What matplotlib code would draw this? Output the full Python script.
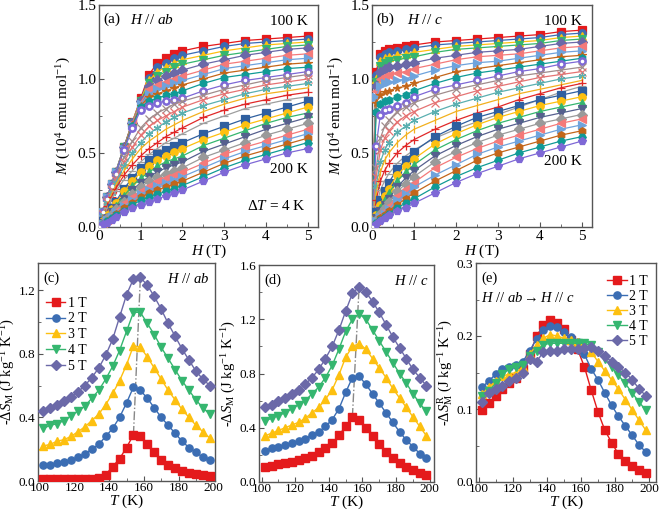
import matplotlib.pyplot as plt
import numpy as np
from matplotlib.ticker import MultipleLocator, FormatStrFormatter

plt.rcParams['font.family'] = ['Liberation Serif', 'DejaVu Serif']
plt.rcParams['mathtext.fontset'] = 'custom'
plt.rcParams['mathtext.rm'] = 'Liberation Serif'
plt.rcParams['mathtext.it'] = 'Liberation Serif:italic'
plt.rcParams['mathtext.bf'] = 'Liberation Serif:bold'

# ---- isotherms, 100 K ... 200 K, step 4 K ----
temps = list(range(100, 201, 4))

# (a) H // ab ; M in units of 0.01 x 10^4 emu/mol
H_ab = [0, 0.1, 0.2, 0.3, 0.4, 0.6, 0.8, 1.0, 1.2, 1.4, 1.6, 1.8, 2.0, 2.5, 3.0, 3.5, 4.0, 4.5, 5.0]
M_ab = [
    [0, 10, 20, 29, 37, 54, 71, 87, 103, 111, 114, 117, 119, 122, 124, 126, 127, 128, 129],
    [0, 10, 20, 29, 37, 54, 71, 86, 101, 108, 111, 114, 116, 119, 122, 124, 125, 126, 127],
    [0, 10, 20, 29, 37, 54, 71, 86, 99, 105, 108, 111, 113, 116, 119, 121, 123, 124, 125],
    [0, 10, 20, 29, 37, 54, 70, 85, 97, 102, 105, 108, 110, 113, 116, 118, 120, 122, 123],
    [0, 10, 20, 29, 37, 54, 70, 85, 95, 99, 102, 104, 106, 110, 113, 116, 118, 120, 121],
    [0, 10, 20, 29, 37, 53, 70, 84, 93, 96, 98, 100, 102, 106, 110, 112, 114, 116, 117],
    [0, 10, 20, 29, 37, 53, 69, 83, 90, 93, 95, 97, 99, 103, 107, 109, 111, 113, 114],
    [0, 10, 19, 28, 36, 53, 69, 82, 88, 90, 92, 94, 96, 100, 104, 106, 108, 110, 111],
    [0, 10, 19, 28, 36, 52, 68, 81, 85, 87, 89, 90, 92, 97, 101, 103, 105, 107, 108],
    [0, 10, 19, 28, 36, 52, 67, 79, 82, 84, 85, 86, 87, 92, 96, 99, 101, 103, 105],
    [0, 9, 18, 26, 34, 47, 58, 67, 73, 77, 80, 83, 85, 89, 93, 96, 99, 101, 103],
    [0, 9, 17, 25, 32, 44, 54, 62, 68, 72, 75, 78, 81, 86, 90, 93, 96, 98, 100],
    [0, 8, 16, 23, 30, 41, 50, 57, 63, 67, 71, 74, 77, 82, 86, 90, 93, 95, 97],
    [0, 8, 15, 22, 28, 38, 46, 53, 58, 62, 66, 69, 72, 78, 83, 87, 90, 92, 94],
    [0, 7, 14, 20, 26, 35, 42, 48, 53, 57, 61, 64, 67, 74, 79, 83, 86, 89, 91],
    [0, 7, 13, 19, 24, 32, 38, 44, 49, 53, 57, 60, 63, 70, 75, 80, 83, 86, 88],
    [0, 4, 8, 13, 17, 26, 33, 40, 45, 49, 52, 55, 57, 63, 68, 73, 77, 81, 85],
    [0, 4, 8, 12, 16, 24, 31, 37, 41, 45, 48, 51, 53, 59, 64, 69, 73, 77, 81],
    [0, 3, 7, 11, 14, 21, 28, 33, 37, 41, 44, 46, 48, 55, 60, 65, 70, 74, 77],
    [0, 3, 6, 10, 13, 19, 25, 30, 34, 37, 40, 42, 44, 51, 56, 61, 66, 70, 74],
    [0, 3, 6, 9, 12, 17, 22, 27, 31, 34, 36, 38, 40, 47, 52, 57, 62, 66, 70],
    [0, 3, 5, 8, 11, 16, 20, 24, 28, 31, 33, 35, 37, 43, 49, 54, 58, 62, 66],
    [0, 2, 5, 7, 10, 14, 18, 22, 25, 28, 30, 32, 34, 40, 46, 51, 55, 59, 63],
    [0, 2, 4, 6, 9, 13, 16, 20, 23, 25, 27, 29, 31, 37, 43, 48, 52, 56, 60],
    [0, 2, 4, 6, 8, 11, 15, 18, 20, 22, 24, 26, 28, 34, 40, 45, 49, 53, 57],
    [0, 2, 3, 5, 7, 10, 13, 15, 17, 19, 21, 23, 25, 31, 37, 42, 46, 50, 53],
]

# (b) H // c
H_c = [0, 0.1, 0.2, 0.3, 0.4, 0.6, 0.8, 1.0, 1.5, 2.0, 2.5, 3.0, 3.5, 4.0, 4.5, 5.0]
M_c = [
    [0, 105, 117, 119, 120, 121, 122, 123, 125, 126, 127, 128, 129, 130, 132, 133],
    [0, 103, 115, 117, 118, 119, 120, 121, 123, 124, 125, 126, 127, 128, 130, 131],
    [0, 100, 112, 114, 115, 116, 117, 118, 120, 122, 123, 124, 125, 126, 128, 129],
    [0, 98, 109, 111, 112, 113, 114, 115, 118, 120, 121, 122, 123, 124, 126, 127],
    [0, 95, 105, 107, 108, 109, 110, 111, 114, 116, 118, 119, 120, 122, 124, 125],
    [0, 92, 100, 102, 103, 104, 105, 107, 110, 113, 115, 116, 117, 119, 121, 122],
    [0, 88, 95, 97, 98, 99, 100, 102, 106, 109, 111, 112, 114, 116, 118, 119],
    [0, 84, 89, 91, 92, 94, 95, 97, 101, 105, 107, 109, 111, 113, 115, 116],
    [0, 78, 83, 85, 86, 88, 89, 92, 97, 101, 104, 106, 108, 110, 112, 114],
    [0, 55, 76, 79, 80, 82, 84, 88, 93, 96, 99, 102, 105, 107, 110, 112],
    [0, 40, 60, 68, 72, 78, 81, 84, 89, 93, 96, 99, 102, 104, 106, 108],
    [0, 34, 52, 60, 65, 71, 75, 78, 84, 88, 92, 95, 98, 101, 103, 105],
    [0, 28, 44, 52, 57, 64, 68, 72, 78, 83, 87, 91, 94, 97, 100, 102],
    [0, 23, 37, 45, 50, 57, 62, 66, 72, 78, 82, 86, 90, 93, 96, 99],
    [0, 18, 31, 38, 43, 50, 55, 59, 66, 72, 77, 81, 86, 90, 94, 97],
    [0, 14, 25, 31, 36, 43, 48, 52, 60, 66, 71, 76, 81, 86, 91, 95],
    [0, 10, 18, 24, 30, 39, 45, 51, 61, 68, 74, 78, 82, 86, 89, 92],
    [0, 8, 15, 21, 26, 35, 41, 46, 56, 63, 69, 74, 78, 82, 85, 88],
    [0, 7, 13, 18, 23, 31, 37, 42, 52, 59, 65, 70, 74, 78, 81, 84],
    [0, 6, 11, 15, 19, 27, 33, 38, 48, 55, 61, 66, 70, 74, 77, 80],
    [0, 5, 9, 13, 17, 24, 29, 34, 44, 51, 57, 62, 66, 70, 73, 76],
    [0, 4, 8, 11, 14, 21, 26, 30, 40, 47, 53, 58, 62, 66, 70, 73],
    [0, 4, 7, 9, 12, 18, 22, 27, 35, 42, 49, 54, 58, 62, 66, 69],
    [0, 3, 6, 8, 11, 15, 19, 23, 31, 38, 45, 50, 54, 58, 62, 65],
    [0, 3, 5, 7, 9, 13, 16, 19, 27, 34, 40, 45, 50, 54, 58, 61],
    [0, 2, 4, 6, 8, 11, 13, 16, 23, 30, 36, 41, 46, 50, 54, 58],
]

# ---- entropy change vs T ----
T_s = list(range(102, 199, 4))
fields = ['1 T', '2 T', '3 T', '4 T', '5 T']
dS_ab = [
    [.01, .01, .01, .01, .01, .01, .01, .015, .02, .04, .09, .14, .21, .29, .28, .23, .18, .13, .10, .08, .065, .05, .045, .04, .03],
    [.10, .10, .11, .12, .13, .15, .17, .20, .23, .28, .33, .40, .49, .59, .57, .52, .46, .40, .35, .30, .25, .21, .18, .15, .13],
    [.22, .23, .25, .26, .28, .31, .34, .38, .42, .48, .55, .63, .73, .85, .84, .78, .71, .64, .57, .51, .45, .40, .35, .31, .27],
    [.33, .35, .36, .38, .41, .44, .47, .52, .57, .64, .72, .82, .94, 1.06, 1.06, .99, .92, .84, .77, .70, .63, .57, .51, .46, .42],
    [.44, .46, .48, .50, .53, .56, .60, .65, .71, .79, .89, 1.03, 1.17, 1.27, 1.28, 1.23, 1.16, 1.08, .99, .91, .83, .76, .69, .64, .60],
]
dS_c = [
    [.11, .12, .13, .14, .15, .16, .175, .19, .22, .25, .285, .345, .41, .48, .455, .40, .34, .28, .22, .18, .14, .11, .085, .065, .055],
    [.23, .25, .26, .27, .285, .30, .32, .345, .37, .41, .46, .54, .66, .77, .78, .72, .65, .58, .51, .44, .37, .31, .26, .21, .175],
    [.34, .36, .38, .40, .42, .44, .47, .51, .55, .61, .68, .79, .92, 1.00, 1.02, .98, .91, .84, .77, .69, .62, .55, .48, .41, .34],
    [.45, .47, .49, .51, .54, .57, .60, .65, .70, .77, .86, .98, 1.11, 1.20, 1.24, 1.20, 1.12, 1.04, .96, .88, .80, .73, .65, .58, .52],
    [.55, .57, .60, .62, .65, .68, .72, .77, .83, .91, 1.00, 1.12, 1.26, 1.39, 1.44, 1.40, 1.33, 1.25, 1.16, 1.07, .99, .91, .83, .77, .71],
]
dS_R = [
    [.098, .108, .118, .127, .135, .142, .155, .175, .200, .215, .222, .218, .210, .195, .182, .158, .126, .096, .071, .054, .038, .029, .022, .016, .013],
    [.130, .138, .148, .155, .158, .160, .165, .180, .196, .208, .214, .212, .205, .198, .192, .175, .155, .140, .122, .105, .090, .077, .064, .051, .041],
    [.120, .130, .138, .145, .148, .150, .158, .175, .188, .197, .202, .200, .197, .195, .192, .188, .178, .165, .152, .140, .127, .113, .099, .085, .071],
    [.118, .125, .135, .148, .155, .158, .160, .172, .180, .188, .190, .190, .190, .190, .190, .190, .187, .178, .168, .158, .146, .135, .122, .110, .098],
    [.110, .122, .128, .132, .138, .142, .150, .168, .165, .178, .180, .180, .182, .182, .182, .183, .185, .180, .172, .165, .158, .150, .140, .128, .118],
]

# ---- styles ----
iso_colors = ['#E41A1C', '#3B6DB3', '#FDC010', '#35B66F', '#6B69A8', '#F47A7A', '#6FA3DC', '#C3661A', '#109A96', '#7E68D6',
              '#A08C8C', '#E57373', '#5AAFB0', '#F2B01E', '#E02828', '#9E9E9E',
              '#2F5F9F', '#FDC010', '#35B66F', '#56608E', '#9A9A9A', '#F47A7A', '#6FA3DC', '#C3661A', '#109A96', '#7E68D6']
iso_markers = ['s', 'o', '^', 'v', 'D', '<', '>', '*', 'h', 'o',
               'x', 'x', (6, 2, 0), '|', '+', '_',
               's', 'o', '^', 'v', 'D', '<', '>', 'h', 'H', 'p']
fld_colors = ['#E41A1C', '#3B6DB3', '#FDC010', '#35B66F', '#6B69A8']
fld_markers = ['s', 'o', '^', 'v', 'D']

W, Hpx = 660, 512
fig = plt.figure(figsize=(W / 100, Hpx / 100), dpi=100)


def box(l, r, t, b):
    return fig.add_axes([l / W, 1 - b / Hpx, (r - l) / W, (b - t) / Hpx])


def style(ax, fs):
    for s in ax.spines.values():
        s.set_color('#555555')
        s.set_linewidth(1.0)
    ax.tick_params(which='both', direction='in', top=False, right=False, labelsize=fs, color='#555555', pad=2)
    ax.tick_params(which='major', length=3.5)
    ax.tick_params(which='minor', length=2)


def iso_panel(ax, H, M, tag, dirtxt, show_dt, lbl200_y):
    for i, row in enumerate(M):
        m = np.array(row) / 100.0
        ax.plot(H, m, color=iso_colors[i], lw=0.9, marker=iso_markers[i], ms=5.4,
                mec=iso_colors[i], mew=0.9, zorder=3)
        if i == 9:
            ax.plot(H, m, ls='none', marker='o', ms=1.6, color='white', zorder=4)
    ax.set_xlim(0, 5.25)
    ax.set_ylim(0, 1.5)
    ax.xaxis.set_major_locator(MultipleLocator(1))
    ax.xaxis.set_minor_locator(MultipleLocator(0.5))
    ax.yaxis.set_major_locator(MultipleLocator(0.5))
    ax.yaxis.set_minor_locator(MultipleLocator(0.25))
    ax.yaxis.set_major_formatter(FormatStrFormatter('%.1f'))
    style(ax, 11)
    ax.set_xlabel(r'$H$ (T)', fontsize=11, labelpad=0)
    ax.set_ylabel(r'$M$ (10$^4$ emu mol$^{-1}$)', fontsize=11, labelpad=3)
    ax.text(0.02, 0.965, tag, transform=ax.transAxes, fontsize=11, va='top')
    ax.text(dirtxt[0], 0.965, dirtxt[1], transform=ax.transAxes, fontsize=11, va='top')
    ax.text(5.0, 1.39, '100 K', fontsize=11, ha='right', va='center')
    ax.text(5.0, lbl200_y, '200 K', fontsize=11, ha='right', va='center')
    if show_dt:
        ax.text(4.95, 0.14, r'$\Delta T$ = 4 K', fontsize=11, ha='right', va='center')


ax_a = box(99, 318, 5, 227)
iso_panel(ax_a, H_ab, M_ab, '(a)', (0.14, r'$H$ // $ab$'), True, 0.39)
ax_b = box(372, 592, 5, 227)
iso_panel(ax_b, H_c, M_c, '(b)', (0.16, r'$H$ // $c$'), False, 0.44)


def ds_panel(ax, data, ylim, ystep, ylabel, peakline):
    for j, row in enumerate(data):
        ax.plot(T_s, row, color=fld_colors[j], lw=1.0, marker=fld_markers[j], ms=5.2,
                mec=fld_colors[j], label=fields[j], zorder=3)
    if peakline:
        lo, hi = np.array(data[0]), np.array(data[-1])
        ax.plot([T_s[lo.argmax()], T_s[hi.argmax()]], [lo.max(), hi.max()],
                color='#888888', ls='-.', lw=1.0, zorder=2)
    ax.set_ylim(*ylim)
    ax.xaxis.set_major_locator(MultipleLocator(20))
    ax.xaxis.set_minor_locator(MultipleLocator(10))
    ax.yaxis.set_major_locator(MultipleLocator(ystep))
    ax.yaxis.set_minor_locator(MultipleLocator(ystep / 2))
    ax.yaxis.set_major_formatter(FormatStrFormatter('%.1f'))
    style(ax, 9.5)
    ax.tick_params(axis='x', pad=1)
    ax.set_xlabel(r'$T$ (K)', fontsize=11, labelpad=-1.5)
    ax.set_ylabel(ylabel, fontsize=10.5, labelpad=1)


ylab = r'-$\Delta S_{\rm M}$ (J kg$^{-1}$ K$^{-1}$)'

ax_c = box(38, 215, 263, 481)
ds_panel(ax_c, dS_ab, (0, 1.37), 0.4, ylab, True)
ax_c.set_xlim(99, 201)
ax_c.text(0.03, 0.96, '(c)', transform=ax_c.transAxes, fontsize=10.5, va='top')
ax_c.text(0.97, 0.96, r'$H$ // $ab$', transform=ax_c.transAxes, fontsize=10.5, va='top', ha='right')
ax_c.legend(loc='upper left', bbox_to_anchor=(-0.01, 0.89), frameon=False, fontsize=10,
            handlelength=1.4, handletextpad=0.2, labelspacing=0.2, borderpad=0.2)

ax_d = box(259, 434, 265, 482)
ds_panel(ax_d, dS_c, (0, 1.6), 0.4, ylab, True)
ax_d.set_xlim(98.5, 202.5)
ax_d.text(0.03, 0.96, '(d)', transform=ax_d.transAxes, fontsize=10.5, va='top')
ax_d.text(0.97, 0.96, r'$H$ // $c$', transform=ax_d.transAxes, fontsize=10.5, va='top', ha='right')

ax_e = box(476, 656, 263, 482)
ds_panel(ax_e, dS_R, (0, 0.3), 0.1, r'-$\Delta S_{\rm M}^{\rm R}$ (J kg$^{-1}$ K$^{-1}$)', False)
ax_e.set_xlim(98.5, 204)
ax_e.yaxis.set_minor_locator(MultipleLocator(0.05))
ax_e.text(0.03, 0.96, '(e)', transform=ax_e.transAxes, fontsize=10.5, va='top')
ax_e.text(0.03, 0.84, r'$H$ // $ab \rightarrow H$ // $c$', transform=ax_e.transAxes, fontsize=10.5, va='center')
ax_e.legend(loc='upper right', bbox_to_anchor=(1.01, 0.99), frameon=False, fontsize=10,
            handlelength=1.4, handletextpad=0.2, labelspacing=0.15, borderpad=0.2)

fig.savefig('out.png', dpi=100)
